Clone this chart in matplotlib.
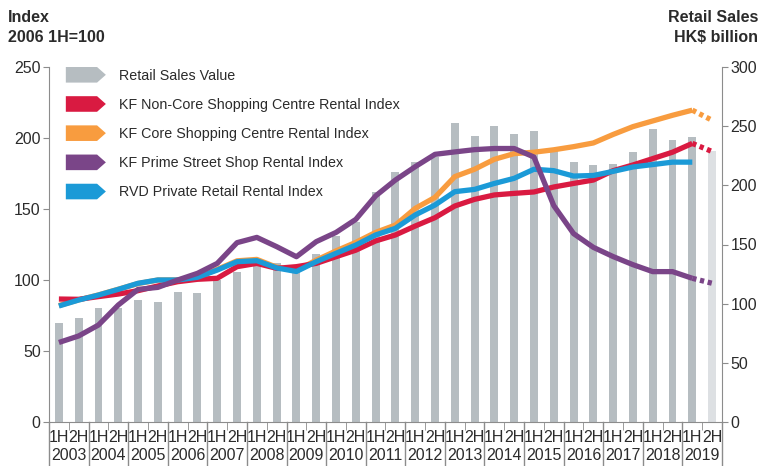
import numpy as np
import matplotlib
matplotlib.use("Agg")
import matplotlib.pyplot as plt
from matplotlib.patches import Patch, Polygon
from matplotlib.legend_handler import HandlerBase

plt.rcParams['font.family'] = ['Liberation Sans', 'DejaVu Sans']

# Half-year periods 2003 1H .. 2019 2H
years = list(range(2003, 2020))
halves = ['1H', '2H']

# Retail sales value, HK$ billion (right axis)
retail_sales = [84, 88, 96, 96, 103, 101, 110, 109, 120, 127, 134, 134, 127, 142,
                157, 169, 194, 211, 220, 224, 253, 242, 250, 243, 246, 229, 220, 217,
                218, 228, 248, 238, 241, 229]

# Rental indices, 2006 1H = 100 (left axis)
non_core = [86.6, 86.4, 88.3, 90.1, 92.5, 95.8, 98.8, 100.5, 101.2, 109.4, 111.7, 108.2,
            109.4, 111.7, 116.4, 121.0, 127.5, 131.7, 138.0, 143.9, 152.1, 156.8, 159.9,
            161.0, 162.0, 165.5, 168.0, 170.4, 177.0, 181.0, 185.5, 190.0, 196.2, 190.5]
core = [82.0, 86.0, 89.5, 93.5, 97.5, 100.0, 100.0, 102.0, 107.5, 113.5, 114.5, 109.0,
        106.5, 114.0, 120.5, 126.5, 133.5, 138.7, 150.4, 158.2, 172.8, 178.0, 185.0,
        189.0, 190.0, 191.7, 193.9, 196.5, 202.5, 208.0, 212.0, 216.0, 219.6, 212.5]
prime_street = [56.0, 60.6, 68.3, 82.4, 93.4, 94.8, 100.0, 104.7, 111.7, 126.3, 130.0,
                123.5, 116.4, 127.0, 133.5, 142.7, 159.2, 170.4, 179.8, 188.5, 190.2,
                191.8, 192.6, 192.6, 186.6, 152.4, 132.7, 123.0, 116.5, 110.8, 105.9,
                105.9, 101.2, 97.7]
rvd = [81.7, 85.9, 89.4, 93.4, 97.7, 100.0, 100.0, 101.9, 107.0, 112.9, 113.6, 108.5,
       106.0, 112.9, 118.8, 124.6, 131.7, 136.4, 145.8, 152.8, 162.2, 163.8, 168.0,
       171.6, 178.0, 177.0, 173.2, 173.6, 176.5, 179.6, 181.3, 183.0, 183.0]

c_bar = '#b6bdc1'
c_bar_light = '#dde0e3'
c_red = '#d91a41'
c_orange = '#f89c3f'
c_purple = '#7a4588'
c_blue = '#1b9ad7'
c_text = '#2b2b2b'
c_axis = '#8c8c8c'

n = len(retail_sales)
x = np.arange(n)

fig = plt.figure(figsize=(7.73, 4.66), dpi=100)
ax2 = fig.add_axes([49 / 773, 1 - 422 / 466, 673 / 773, 355 / 466])
ax = ax2.twinx()
ax.set_zorder(ax2.get_zorder() + 1)
ax.patch.set_visible(False)

# bars (right axis), last one is the lighter estimate
bar_colors = [c_bar] * (n - 1) + [c_bar_light]
ax2.bar(x, retail_sales, width=0.4, color=bar_colors, zorder=1)

# lines (left axis): solid up to 2019 1H, dotted to 2019 2H
lw = 3.8
for series, col, z in [(core, c_orange, 2), (non_core, c_red, 2.2), (prime_street, c_purple, 3)]:
    ax.plot(x[:n - 1], series[:n - 1], color=col, lw=lw, solid_capstyle='butt', zorder=z)
    ax.plot(x[n - 2:], series[n - 2:], color=col, lw=lw, dashes=(0.8, 0.7),
            dash_capstyle='butt', zorder=z)
ax.plot(x[:len(rvd)], rvd, color=c_blue, lw=lw, solid_capstyle='butt', zorder=2.5)

# left axis is index, right axis is retail sales
ax.yaxis.tick_left()
ax2.yaxis.tick_right()

ax2.set_xlim(-0.5, n - 0.5)
ax.set_ylim(0, 250)
ax2.set_ylim(0, 300)
ax.set_yticks(range(0, 251, 50))
ax2.set_yticks(range(0, 301, 50))

for a in (ax, ax2):
    for s in a.spines.values():
        s.set_visible(False)
ax.spines['left'].set_visible(True)
ax.spines['left'].set_color(c_axis)
ax2.spines['bottom'].set_visible(True)
ax2.spines['bottom'].set_color(c_axis)
ax2.spines['right'].set_visible(True)
ax2.spines['right'].set_color(c_axis)

ax.tick_params(axis='y', direction='out', length=4, color=c_axis, labelsize=11.5,
               labelcolor=c_text, pad=2)
ax2.tick_params(axis='y', direction='out', length=4, color=c_axis, labelsize=11.5,
                labelcolor=c_text, pad=2)

# x axis: 1H/2H labels, minor ticks at period boundaries
ax2.set_xticks(x)
ax2.set_xticklabels([halves[i % 2] for i in range(n)])
ax2.set_xticks(np.arange(-0.5, n, 1.0), minor=True)
ax2.tick_params(axis='x', which='major', length=0, labelsize=11.5, labelcolor=c_text, pad=6)
ax2.tick_params(axis='x', which='minor', length=6, color=c_axis, direction='out')

# year labels and year separators
trans = ax2.get_xaxis_transform()
for k, yr in enumerate(years):
    ax2.text(2 * k + 0.5, -0.093, str(yr), transform=trans, ha='center', va='center',
             fontsize=11.5, color=c_text)
for k in range(len(years) + 1):
    ax2.plot([2 * k - 0.5, 2 * k - 0.5], [0, -0.13], transform=trans, color=c_axis,
             lw=1.0, clip_on=False)

# axis titles
fig.text(8 / 773, 1 - 10 / 466, 'Index\n2006 1H=100', ha='left', va='top', fontsize=11.5,
         fontweight='bold', color=c_text, linespacing=1.4)
fig.text(758 / 773, 1 - 10 / 466, 'Retail Sales\nHK$ billion', ha='right', va='top',
         fontsize=11.5, fontweight='bold', color=c_text, linespacing=1.4)


class ArrowHandler(HandlerBase):
    def create_artists(self, legend, orig_handle, xdescent, ydescent, width, height,
                       fontsize, trans):
        x0, y0 = -xdescent, -ydescent
        d = 0.22 * width
        verts = [(x0, y0), (x0 + width - d, y0), (x0 + width, y0 + height / 2),
                 (x0 + width - d, y0 + height), (x0, y0 + height)]
        p = Polygon(verts, closed=True, facecolor=orig_handle.get_facecolor(),
                    edgecolor='none', transform=trans)
        return [p]


labels = ['Retail Sales Value', 'KF Non-Core Shopping Centre Rental Index',
          'KF Core Shopping Centre Rental Index', 'KF Prime Street Shop Rental Index',
          'RVD Private Retail Rental Index']
handles = [Patch(facecolor=c) for c in [c_bar, c_red, c_orange, c_purple, c_blue]]
ax.legend(handles, labels, handler_map={Patch: ArrowHandler()}, loc='upper left',
          bbox_to_anchor=(0.025, 1.0), frameon=False, fontsize=10.3, borderpad=0,
          borderaxespad=0, handlelength=2.8, handleheight=1.3, labelspacing=0.95,
          handletextpad=0.9, labelcolor=c_text)

fig.savefig('out.png', dpi=100)
